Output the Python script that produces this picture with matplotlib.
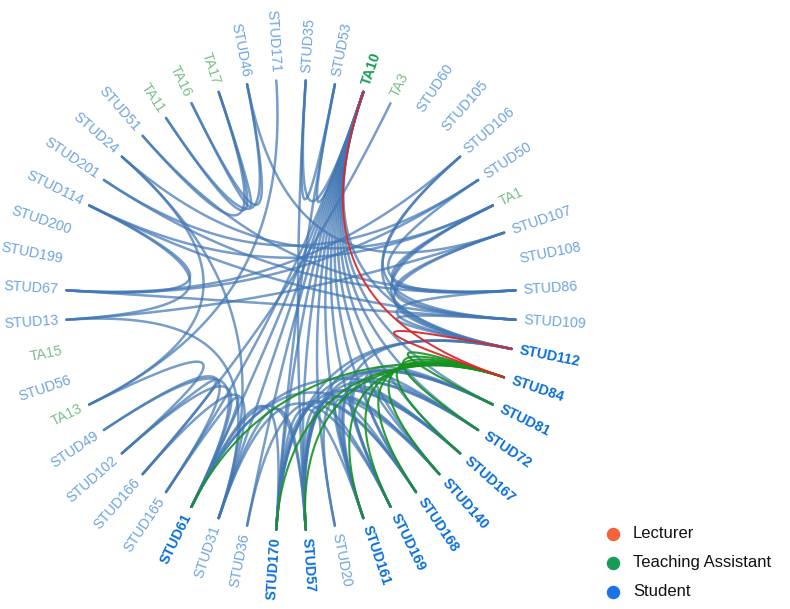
"""Course interaction network drawn as a radial edge diagram."""

import numpy as np
import matplotlib

matplotlib.use("Agg")
import matplotlib.pyplot as plt

# nodes clockwise from the top of the ring
nodes = [
    "STUD171", "STUD35", "STUD53", "TA10", "TA3", "STUD60", "STUD105", "STUD106",
    "STUD50", "TA1", "STUD107", "STUD108", "STUD86", "STUD109", "STUD112", "STUD84",
    "STUD81", "STUD72", "STUD167", "STUD140", "STUD168", "STUD169", "STUD161", "STUD20",
    "STUD57", "STUD170", "STUD36", "STUD31", "STUD61", "STUD165", "STUD166", "STUD102",
    "STUD49", "TA13", "STUD56", "TA15", "STUD13", "STUD67", "STUD199", "STUD200",
    "STUD114", "STUD201", "STUD24", "STUD51", "TA11", "TA16", "TA17", "STUD46",
]
highlighted = [
    "TA10", "STUD112", "STUD84", "STUD81", "STUD72", "STUD167", "STUD140", "STUD168",
    "STUD169", "STUD161", "STUD57", "STUD170", "STUD61",
]

blue_edges = [
    ("TA10", "STUD112"), ("TA10", "STUD81"), ("TA10", "STUD72"), ("TA10", "STUD167"),
    ("TA10", "STUD140"), ("TA10", "STUD168"), ("TA10", "STUD169"), ("TA10", "STUD161"),
    ("TA10", "STUD20"), ("TA10", "STUD57"), ("TA10", "STUD170"), ("TA10", "STUD36"),
    ("TA10", "STUD61"), ("TA10", "STUD165"), ("TA10", "STUD31"),
    ("TA10", "STUD35"), ("TA10", "STUD53"), ("STUD35", "STUD53"),
    ("STUD53", "STUD170"), ("STUD35", "STUD57"), ("TA3", "STUD166"),
    ("STUD171", "TA13"), ("STUD46", "STUD107"), ("STUD46", "TA16"),
    ("TA11", "TA17"), ("TA16", "TA17"), ("TA11", "STUD46"),
    ("STUD51", "TA17"), ("STUD51", "STUD86"), ("STUD24", "TA13"), ("STUD24", "STUD31"),
    ("STUD201", "STUD86"), ("STUD114", "STUD67"), ("STUD114", "STUD13"),
    ("STUD114", "STUD109"), ("STUD114", "TA1"), ("STUD67", "STUD109"), ("STUD67", "STUD50"),
    ("STUD13", "STUD31"), ("STUD13", "STUD107"), ("STUD49", "STUD61"),
    ("STUD102", "STUD166"), ("STUD102", "STUD61"), ("STUD166", "STUD31"),
    ("STUD165", "STUD49"), ("STUD165", "STUD61"), ("TA13", "STUD102"),
    ("STUD106", "STUD109"), ("STUD106", "STUD67"), ("STUD50", "STUD86"),
    ("STUD50", "STUD201"), ("TA1", "STUD109"), ("TA1", "STUD86"), ("TA1", "STUD112"),
    ("STUD107", "STUD109"), ("STUD107", "STUD112"), ("STUD86", "STUD112"),
    ("STUD109", "STUD112"), ("TA1", "STUD24"), ("STUD106", "STUD112"),
    ("STUD81", "STUD161"), ("STUD81", "STUD170"), ("STUD81", "STUD57"),
    ("STUD72", "STUD57"), ("STUD72", "STUD169"), ("STUD72", "STUD61"),
    ("STUD167", "STUD161"), ("STUD167", "STUD170"), ("STUD167", "STUD57"),
    ("STUD140", "STUD57"), ("STUD140", "STUD61"), ("STUD140", "STUD20"),
    ("STUD168", "STUD170"), ("STUD168", "STUD36"), ("STUD169", "STUD57"),
    ("STUD169", "STUD31"), ("STUD161", "STUD170"), ("STUD112", "STUD161"),
    ("STUD112", "STUD57"), ("STUD112", "STUD170"), ("STUD81", "STUD168"),
    ("STUD72", "STUD140"), ("STUD167", "STUD169"), ("STUD168", "STUD161"),
    ("STUD61", "STUD170"), ("STUD61", "STUD57"), ("STUD31", "STUD57"),
]
green_edges = [
    ("STUD84", "STUD61"), ("STUD84", "STUD170"), ("STUD84", "STUD57"),
    ("STUD84", "STUD161"), ("STUD84", "STUD169"), ("STUD84", "STUD168"),
    ("STUD84", "STUD140"), ("STUD84", "STUD167"), ("STUD84", "STUD72"),
    ("STUD84", "STUD81"),
]
red_edges = [("TA10", "STUD84"), ("STUD112", "STUD84")]

legend_labels = ["Lecturer", "Teaching Assistant", "Student"]
legend_colors = ["#f4623a", "#179c57", "#1a73e8"]

CX, CY, R = 291, 305, 225
STEP = 360 / len(nodes)
angle = {n: -STEP / 2 + STEP * i for i, n in enumerate(nodes)}


def point(a, r):
    t = np.radians(a)
    return np.array([CX + r * np.sin(t), CY - r * np.cos(t)])


def edge_path(a, b, ka=0.3, kb=0.3):
    p0, p1 = point(angle[a], R), point(angle[a], R * ka)
    p2, p3 = point(angle[b], R * kb), point(angle[b], R)
    t = np.linspace(0, 1, 80)[:, None]
    return ((1 - t) ** 3 * p0 + 3 * (1 - t) ** 2 * t * p1
            + 3 * (1 - t) * t ** 2 * p2 + t ** 3 * p3)


fig = plt.figure(figsize=(7.9, 6.09), dpi=100)
ax = fig.add_axes([0, 0, 1, 1])
ax.set_xlim(0, 790)
ax.set_ylim(609, 0)
ax.axis("off")

for edges, color, alpha, lw, ka in [(blue_edges, "#4277b3", 0.72, 1.8, 0.3),
                                    (green_edges, "#14931e", 0.9, 1.5, 0.55),
                                    (red_edges, "#d8282a", 0.95, 1.4, 0.3)]:
    for a, b in edges:
        xy = edge_path(a, b, ka=ka)
        ax.plot(xy[:, 0], xy[:, 1], color=color, alpha=alpha, lw=lw,
                solid_capstyle="round")

for n in nodes:
    a = angle[n] % 360
    x, y = point(a, R + 8)
    bold = n in highlighted
    if n.startswith("TA"):
        color = "#179c57" if bold else "#7dbd8c"
    else:
        color = "#0a6fd8" if bold else "#6ea3dc"
    if a < 180:
        rot, ha = 90 - a, "left"
    else:
        rot, ha = 270 - a, "right"
    ax.text(x, y, n, rotation=rot, rotation_mode="anchor", ha=ha, va="center",
            fontsize=10.3, color=color, fontweight="bold" if bold else "normal",
            family="Liberation Sans")

for i, (lab, col) in enumerate(zip(legend_labels, legend_colors)):
    y = 534 + 29 * i
    ax.scatter([613], [y], s=75, color=col, zorder=3)
    ax.text(633, y, lab, va="center", ha="left", fontsize=12, color="#111",
            family="Liberation Sans")

fig.savefig("out.png", dpi=100)
